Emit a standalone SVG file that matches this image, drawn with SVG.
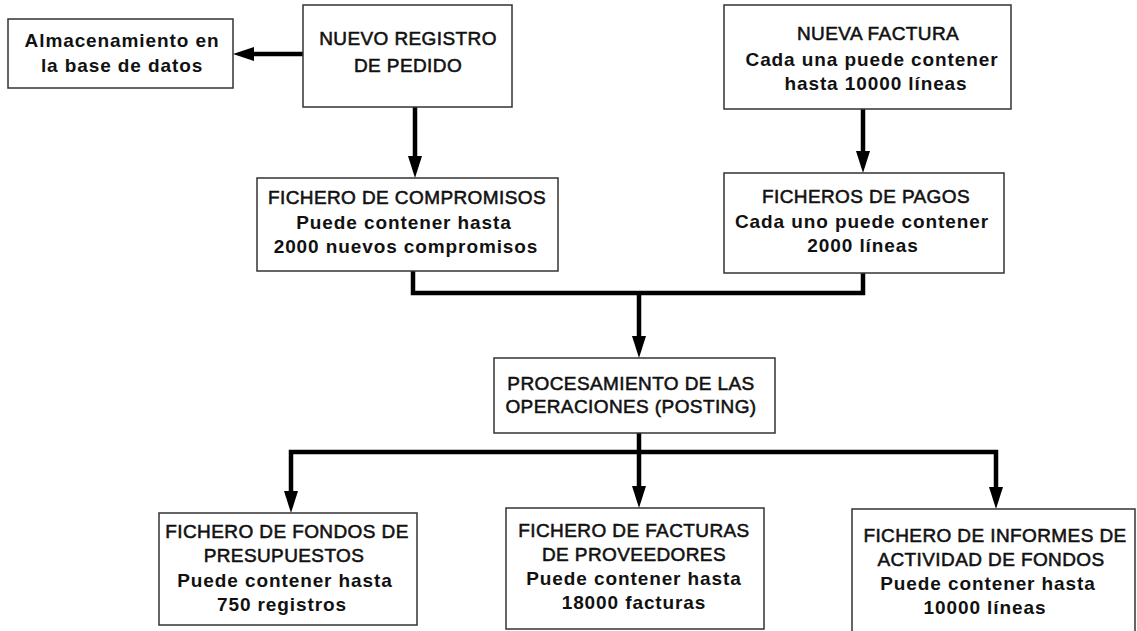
<svg xmlns="http://www.w3.org/2000/svg" width="1137" height="631" viewBox="0 0 1137 631">
<style>
.box{fill:#fff;stroke:#333;stroke-width:1.5}
text{font-family:"Liberation Sans",Arial,sans-serif;font-size:19px;fill:#111;text-anchor:middle}
.t{letter-spacing:0.4px;stroke:#111;stroke-width:0.55px}
.d{font-weight:bold;letter-spacing:0.9px}
.c{fill:none;stroke:#000;stroke-width:4.5}
</style>
<rect width="1137" height="631" fill="#fff"/>
<g id="connectors">
<path class="c" d="M303 54 H253"/>
<polygon points="233,54 254,47 254,61" fill="#000"/>
<path class="c" d="M415 107 V158"/>
<polygon points="408,156 422,156 415,178" fill="#000"/>
<path class="c" d="M863 109 V152"/>
<polygon points="856,151 870,151 863,173" fill="#000"/>
<path class="c" d="M413 271 V293 H863 V273"/>
<path class="c" d="M639 293 V338"/>
<polygon points="632,336 646,336 639,358" fill="#000"/>
<path class="c" d="M639 433 V488"/>
<path class="c" d="M291 493 V452 H996 V489"/>
<polygon points="284,491 298,491 291,513" fill="#000"/>
<polygon points="632,486 646,486 639,508" fill="#000"/>
<polygon points="989,487 1003,487 996,509" fill="#000"/>
</g>
<g id="almacenamiento">
<rect class="box" x="8" y="19" width="225" height="69"/>
<text class="d" x="122" y="47">Almacenamiento en</text>
<text class="d" x="122" y="72">la base de datos</text>
</g>
<g id="nuevo-registro">
<rect class="box" x="303" y="5" width="209" height="102"/>
<text class="t" x="408" y="45">NUEVO REGISTRO</text>
<text class="t" x="408" y="72">DE PEDIDO</text>
</g>
<g id="nueva-factura">
<rect class="box" x="724" y="5" width="287" height="104"/>
<text class="t" x="878" y="40">NUEVA FACTURA</text>
<text class="d" x="872" y="65.5">Cada una puede contener</text>
<text class="d" x="876" y="90">hasta 10000 líneas</text>
</g>
<g id="compromisos">
<rect class="box" x="257" y="178" width="301" height="93"/>
<text class="t" x="407" y="204">FICHERO DE COMPROMISOS</text>
<text class="d" x="404" y="229">Puede contener hasta</text>
<text class="d" x="406" y="253">2000 nuevos compromisos</text>
</g>
<g id="pagos">
<rect class="box" x="724" y="173" width="280" height="100"/>
<text class="t" x="866" y="203">FICHEROS DE PAGOS</text>
<text class="d" x="862" y="228">Cada uno puede contener</text>
<text class="d" x="863" y="252">2000 líneas</text>
</g>
<g id="procesamiento">
<rect class="box" x="494" y="358" width="281" height="75"/>
<text class="t" x="631" y="390">PROCESAMIENTO DE LAS</text>
<text class="t" x="631" y="413">OPERACIONES (POSTING)</text>
</g>
<g id="fondos-presupuestos">
<rect class="box" x="159" y="513" width="258" height="112"/>
<text class="t" x="287" y="538">FICHERO DE FONDOS DE</text>
<text class="t" x="284" y="562">PRESUPUESTOS</text>
<text class="d" x="285" y="587">Puede contener hasta</text>
<text class="d" x="282" y="611">750 registros</text>
</g>
<g id="facturas-proveedores">
<rect class="box" x="506" y="508" width="258" height="121"/>
<text class="t" x="634" y="537">FICHERO DE FACTURAS</text>
<text class="t" x="634" y="561">DE PROVEEDORES</text>
<text class="d" x="634" y="585">Puede contener hasta</text>
<text class="d" x="634" y="609">18000 facturas</text>
</g>
<g id="informes-actividad">
<rect class="box" x="852" y="509" width="283" height="130"/>
<text class="t" x="995" y="542">FICHERO DE INFORMES DE</text>
<text class="t" x="991" y="566">ACTIVIDAD DE FONDOS</text>
<text class="d" x="988" y="590">Puede contener hasta</text>
<text class="d" x="985" y="614">10000 líneas</text>
</g>
</svg>
